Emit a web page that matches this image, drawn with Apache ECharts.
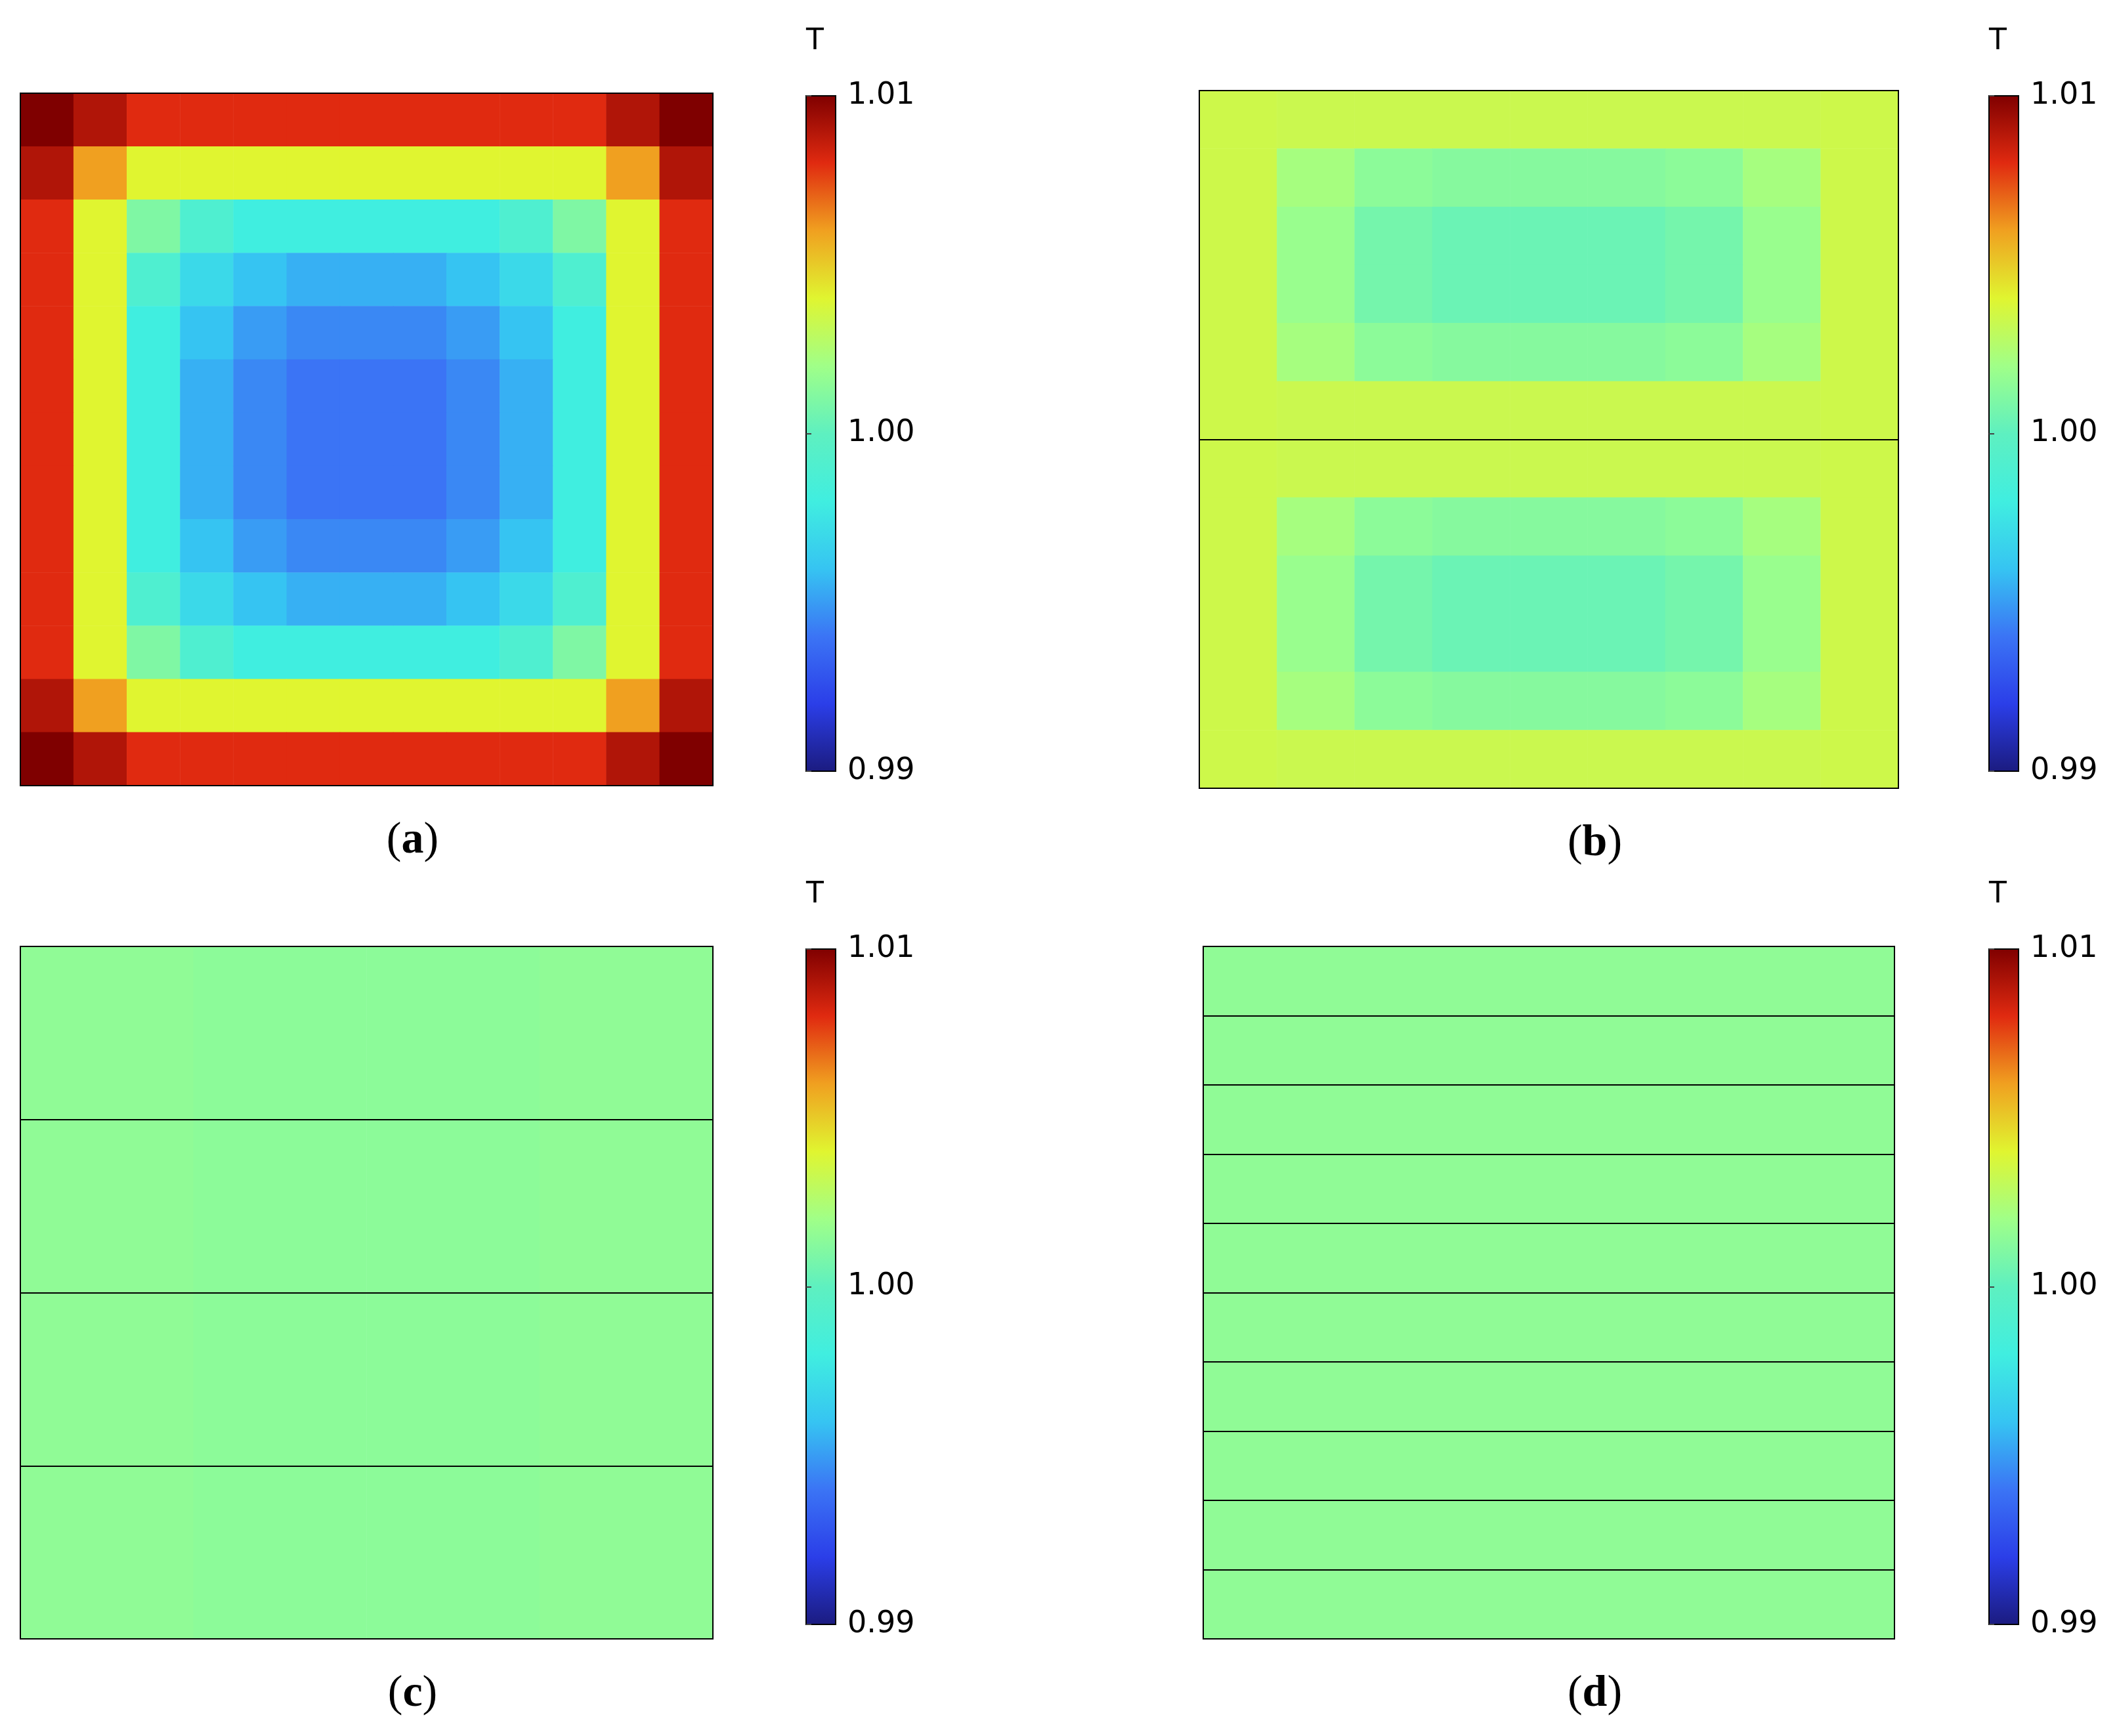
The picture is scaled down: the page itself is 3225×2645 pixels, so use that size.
<!DOCTYPE html>
<html>
<head>
<meta charset="utf-8">
<script src="https://cdn.jsdelivr.net/npm/echarts@6/dist/echarts.min.js"></script>
<style>html,body{margin:0;padding:0;background:#fff}#main{width:3225px;height:2645px}</style>
</head>
<body>
<div id="main"></div>
<script>
// temperature, rows top to bottom
var fieldA = [
  [1.010,1.009,1.008,1.008,1.008,1.008,1.008,1.008,1.008,1.008,1.008,1.009,1.010],
  [1.009,1.006,1.004,1.004,1.004,1.004,1.004,1.004,1.004,1.004,1.004,1.006,1.009],
  [1.008,1.004,1.001,0.999,0.998,0.998,0.998,0.998,0.998,0.999,1.001,1.004,1.008],
  [1.008,1.004,0.999,0.997,0.996,0.9955,0.9955,0.9955,0.996,0.997,0.999,1.004,1.008],
  [1.008,1.004,0.998,0.996,0.995,0.9945,0.9945,0.9945,0.995,0.996,0.998,1.004,1.008],
  [1.008,1.004,0.998,0.9955,0.9945,0.994,0.994,0.994,0.9945,0.9955,0.998,1.004,1.008],
  [1.008,1.004,0.998,0.9955,0.9945,0.994,0.994,0.994,0.9945,0.9955,0.998,1.004,1.008],
  [1.008,1.004,0.998,0.9955,0.9945,0.994,0.994,0.994,0.9945,0.9955,0.998,1.004,1.008],
  [1.008,1.004,0.998,0.996,0.995,0.9945,0.9945,0.9945,0.995,0.996,0.998,1.004,1.008],
  [1.008,1.004,0.999,0.997,0.996,0.9955,0.9955,0.9955,0.996,0.997,0.999,1.004,1.008],
  [1.008,1.004,1.001,0.999,0.998,0.998,0.998,0.998,0.998,0.999,1.001,1.004,1.008],
  [1.009,1.006,1.004,1.004,1.004,1.004,1.004,1.004,1.004,1.004,1.004,1.006,1.009],
  [1.010,1.009,1.008,1.008,1.008,1.008,1.008,1.008,1.008,1.008,1.008,1.009,1.010]
];
// panel (b): two layers
var fieldB = [
  [1.0034,1.0033,1.0033,1.0033,1.0033,1.0033,1.0033,1.0033,1.0034],
  [1.0034,1.0022,1.0014,1.0012,1.0012,1.0012,1.0014,1.0022,1.0034],
  [1.0034,1.0018,1.0007,1.0004,1.0004,1.0004,1.0007,1.0018,1.0034],
  [1.0034,1.0018,1.0007,1.0004,1.0004,1.0004,1.0007,1.0018,1.0034],
  [1.0034,1.0022,1.0014,1.0012,1.0012,1.0012,1.0014,1.0022,1.0034],
  [1.0034,1.0033,1.0033,1.0033,1.0033,1.0033,1.0033,1.0033,1.0034],
  [1.0034,1.0033,1.0033,1.0033,1.0033,1.0033,1.0033,1.0033,1.0034],
  [1.0034,1.0022,1.0014,1.0012,1.0012,1.0012,1.0014,1.0022,1.0034],
  [1.0034,1.0018,1.0007,1.0004,1.0004,1.0004,1.0007,1.0018,1.0034],
  [1.0034,1.0018,1.0007,1.0004,1.0004,1.0004,1.0007,1.0018,1.0034],
  [1.0034,1.0022,1.0014,1.0012,1.0012,1.0012,1.0014,1.0022,1.0034],
  [1.0034,1.0033,1.0033,1.0033,1.0033,1.0033,1.0033,1.0033,1.0034]
];
// panel (c): four layers, nearly uniform
var fieldC = [
  [1.0015,1.0014,1.0014,1.0015],
  [1.0015,1.0014,1.0014,1.0015],
  [1.0015,1.0014,1.0014,1.0015],
  [1.0015,1.0014,1.0014,1.0015]
];
// panel (d): ten layers, uniform
var fieldD = [[1.0015],[1.0015],[1.0015],[1.0015],[1.0015],[1.0015],[1.0015],[1.0015],[1.0015],[1.0015]];
var layersPerPanel = [1, 2, 4, 10];
var colorTicks = [0.99, 1.00, 1.01];
var captions = ['a', 'b', 'c', 'd'];

var jet = ['#1b1b7f','#2b3ee8','#3b74f5','#36c4f2','#40eee0','#5ef0c0','#a0ff88','#e0f530','#f0a020','#e02a10','#7f0000'];

var myChart = echarts.init(document.getElementById('main'));

var boxes = [
  {l: 31, t: 142, w: 1055, h: 1055, cb: {l: 1228, t: 146, h: 1029}},
  {l: 1827, t: 138, w: 1065, h: 1063, cb: {l: 3030, t: 146, h: 1029}},
  {l: 31, t: 1442, w: 1055, h: 1055, cb: {l: 1228, t: 1446, h: 1029}},
  {l: 1833, t: 1442, w: 1053, h: 1055, cb: {l: 3030, t: 1446, h: 1029}}
];
var fields = [fieldA, fieldB, fieldC, fieldD];

var grid = [], xAxis = [], yAxis = [], series = [], graphic = [];
var gradient = new echarts.graphic.LinearGradient(0, 1, 0, 0,
  jet.map(function (c, i) { return {offset: i / (jet.length - 1), color: c}; }));

function idx(n) { var a = []; for (var i = 0; i < n; i++) a.push(i); return a; }

boxes.forEach(function (b, p) {
  var f = fields[p];
  var g0 = grid.length;
  // heatmap grid
  grid.push({left: b.l, top: b.t, width: b.w, height: b.h});
  xAxis.push({type: 'category', gridIndex: g0, data: idx(f[0].length), show: false});
  yAxis.push({type: 'category', gridIndex: g0, data: idx(f.length), inverse: true, show: false});
  var data = [];
  f.forEach(function (row, r) { row.forEach(function (v, c) { data.push([c, r, v]); }); });
  series.push({type: 'heatmap', xAxisIndex: xAxis.length - 1, yAxisIndex: yAxis.length - 1, data: data, progressive: 0});
  // overlay grid for layer boundaries and border
  grid.push({left: b.l, top: b.t, width: b.w, height: b.h, show: true, z: 10,
    backgroundColor: 'transparent', borderColor: '#000', borderWidth: 2});
  xAxis.push({type: 'value', gridIndex: g0 + 1, min: 0, max: 1, show: false});
  yAxis.push({type: 'value', gridIndex: g0 + 1, min: 0, max: 1, interval: 1 / layersPerPanel[p], z: 10,
    axisLine: {show: false}, axisTick: {show: false}, axisLabel: {show: false},
    splitLine: {show: true, lineStyle: {color: '#000', width: 2}}});
  // colour bar
  grid.push({left: b.cb.l, top: b.cb.t, width: 45, height: b.cb.h, show: true,
    backgroundColor: gradient, borderColor: '#000', borderWidth: 2});
  xAxis.push({type: 'value', gridIndex: g0 + 2, min: 0, max: 1, show: false});
  yAxis.push({type: 'value', gridIndex: g0 + 2, min: colorTicks[0], max: colorTicks[2], interval: 0.01,
    position: 'right', name: 'T', nameGap: 60, nameTextStyle: {fontSize: 44, color: '#000', fontFamily: 'DejaVu Sans', align: 'left'},
    axisLine: {show: false}, splitLine: {show: false},
    axisTick: {show: true, inside: false, length: 8, lineStyle: {color: '#444', width: 2}},
    axisLabel: {fontSize: 46, color: '#000', fontFamily: 'DejaVu Sans', margin: 18,
      formatter: function (v) { return v.toFixed(2); }}});
  graphic.push({type: 'text', x: b.l + b.w / 2 + 70, y: b.t + b.h + 50,
    style: {textAlign: 'center',
      rich: {n: {fontSize: 68, fontFamily: 'Liberation Serif', fill: '#000'},
        bb: {fontSize: 68, fontFamily: 'Liberation Serif', fontWeight: 'bold', fill: '#000'}},
      text: '{n|(}{bb|' + captions[p] + '}{n|)}'}});
});

var option = {
  backgroundColor: '#fff',
  animation: false,
  grid: grid, xAxis: xAxis, yAxis: yAxis,
  visualMap: {show: false, min: 0.99, max: 1.01, seriesIndex: [0, 1, 2, 3], inRange: {color: jet}},
  series: series,
  graphic: graphic
};
myChart.setOption(option);
</script>
</body>
</html>
